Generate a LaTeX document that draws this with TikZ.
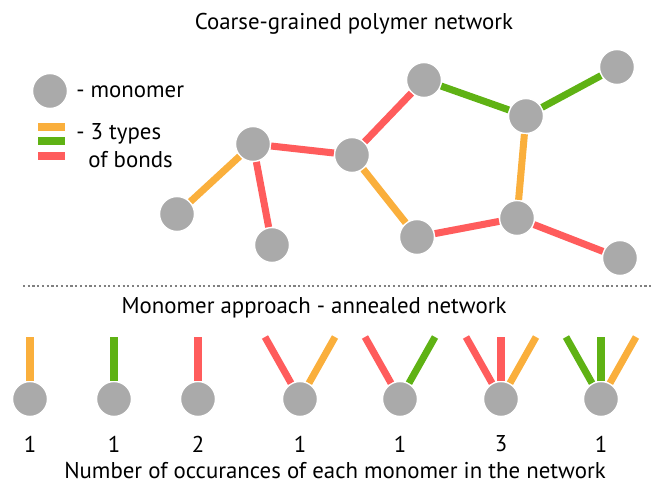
\documentclass[tikz,border=0pt]{standalone}
\usepackage{fontspec}
\setmainfont{PT Sans}
\usetikzlibrary{positioning}
\definecolor{bondorange}{RGB}{250,175,60}
\definecolor{bondgreen}{RGB}{95,178,20}
\definecolor{bondred}{RGB}{255,92,92}
\definecolor{monogray}{RGB}{170,170,170}
\tikzset{
  mono/.style={circle, fill=monogray, draw=white, line width=0.8pt,
               minimum size=0.7cm, inner sep=0pt},
  bondo/.style={draw=bondorange, line width=4pt},
  bondg/.style={draw=bondgreen, line width=4pt},
  bondr/.style={draw=bondred, line width=4pt},
  lbl/.style={font=\fontsize{13}{15}\selectfont, inner sep=0pt},
  count/.style={font=\fontsize{13}{15}\selectfont, inner sep=0pt},
}

\begin{document}
\begin{tikzpicture}[x=0.02cm, y=-0.02cm]
\useasboundingbox (0,0) rectangle (653,483);

% top: network
\node[lbl] (title) at (354,24) {Coarse-grained polymer network};

\node[mono] (legmono) at (50,91) {};
\node[lbl, anchor=west] (legmonotxt) at (76,92) {- monomer};
\draw[bondo] (38,127) -- (65,127);
\draw[bondg] (38,141) -- (65,141);
\draw[bondr] (38,156) -- (65,156);
\node[lbl, anchor=west] (legbondtxt) at (76,134) {- 3 types};
\node[lbl, anchor=west] (legbondtxt2) at (88,160) {of bonds};

\node[mono] (hub) at (253,144) {};
\node[mono] (endbl) at (177,214) {};
\node[mono] (endb) at (272,245) {};
\node[mono] (mid) at (352,155) {};
\node[mono] (top) at (424,80) {};
\node[mono] (ru) at (526,116) {};
\node[mono] (endtr) at (617,67) {};
\node[mono] (rl) at (517,218) {};
\node[mono] (bm) at (417,237) {};
\node[mono] (endbr) at (620,258) {};

\draw[bondo] (endbl) -- (hub);
\draw[bondr] (hub) -- (endb);
\draw[bondr] (hub) -- (mid);
\draw[bondr] (mid) -- (top);
\draw[bondg] (top) -- (ru);
\draw[bondg] (ru) -- (endtr);
\draw[bondo] (ru) -- (rl);
\draw[bondo] (mid) -- (bm);
\draw[bondr] (bm) -- (rl);
\draw[bondr] (rl) -- (endbr);

\draw[black!50, dash pattern=on 1.2pt off 1.5pt, line width=0.7pt] (23,286) -- (653,286);

% bottom: monomer types
\node[lbl] (subtitle) at (314,308) {Monomer approach - annealed network};

\foreach \x [count=\i] in {30,114,198,300,400,501,601} {
  \node[mono] (m\i) at (\x,399) {};
}
\foreach \x/\n [count=\i] in {30/1,114/1,198/2,300/1,400/1,501/3,601/1} {
  \node[count] (c\i) at (\x,444) {\n};
}

\coordinate (t1) at (30,337);
\coordinate (t2) at (114,337);
\coordinate (t3) at (198,337);
\coordinate (t4l) at (265,337);
\coordinate (t4r) at (335,337);
\coordinate (t5l) at (365,337);
\coordinate (t5r) at (435,337);
\coordinate (t6l) at (466,337);
\coordinate (t6m) at (501,337);
\coordinate (t6r) at (536,337);
\coordinate (t7l) at (566,337);
\coordinate (t7m) at (601,337);
\coordinate (t7r) at (636,337);

\draw[bondo] (m1) -- (t1);
\draw[bondg] (m2) -- (t2);
\draw[bondr] (m3) -- (t3);
\draw[bondr] (m4) -- (t4l);
\draw[bondo] (m4) -- (t4r);
\draw[bondr] (m5) -- (t5l);
\draw[bondg] (m5) -- (t5r);
\draw[bondr] (m6) -- (t6l);
\draw[bondr] (m6) -- (t6m);
\draw[bondo] (m6) -- (t6r);
\draw[bondg] (m7) -- (t7l);
\draw[bondg] (m7) -- (t7m);
\draw[bondo] (m7) -- (t7r);

\node[lbl] (caption) at (335,471) {Number of occurances of each monomer in the network};

\end{tikzpicture}
\end{document}
